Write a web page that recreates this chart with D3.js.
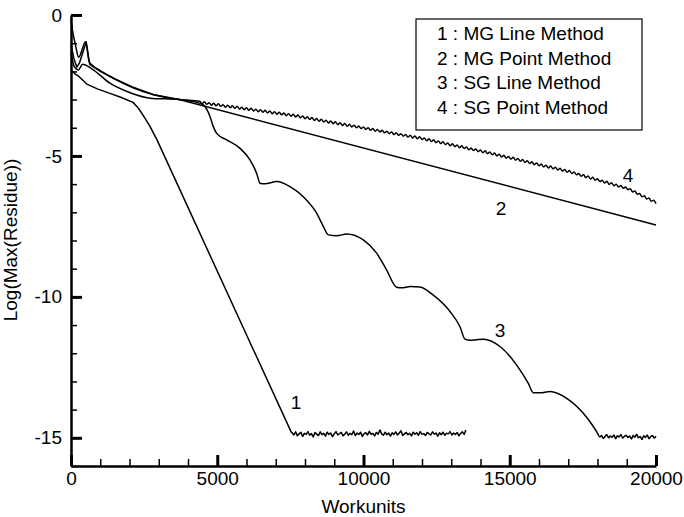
<!DOCTYPE html>
<html lang="en">
<head>
<meta charset="UTF-8">
<title>Residue history</title>
<script src="https://cdn.jsdelivr.net/npm/d3@7"></script>
<style>
  html, body { margin: 0; padding: 0; background: #fff; }
  svg { display: block; font-family: "Liberation Sans", Arial, Helvetica, sans-serif; }
</style>
</head>
<body>
<div id="chart"></div>
<script>
// ticks and labels
const xTicks = [0, 5000, 10000, 15000, 20000];
const yTicks = [0, -5, -10, -15];
const legendLabels = ["1 : MG Line Method", "2 : MG Point Method", "3 : SG Line Method", "4 : SG Point Method"];
const curveNames = ["1", "2", "3", "4"];
const curveNameAt = [[7690, -13.73], [14700, -6.85], [14670, -11.18], [19040, -5.68]];

// 1 : MG line method  [workunits, log residue]
const mgLine = [[0, -1.95], [60, -2.0], [150, -2.1], [280, -2.19], [540, -2.45], [900, -2.62],
  [1330, -2.78], [1700, -2.92], [2120, -3.1], [2300, -3.3], [2462, -3.55], [2700, -3.95],
  [2940, -4.43], [7530, -14.8]];
// noisy plateau, one value every 60 workunits from 7560
const mgLineTail = [-14.82,-14.90,-14.79,-14.93,-14.86,-14.80,-14.95,-14.84,-14.88,-14.78,
  -14.91,-14.85,-14.97,-14.81,-14.87,-14.92,-14.79,-14.89,-14.84,-14.94,
  -14.80,-14.88,-14.83,-14.96,-14.86,-14.78,-14.90,-14.85,-14.81,-14.93,
  -14.87,-14.79,-14.91,-14.84,-14.89,-14.76,-14.92,-14.83,-14.88,-14.80,
  -14.95,-14.85,-14.82,-14.90,-14.77,-14.88,-14.84,-14.93,-14.81,-14.87,
  -14.72,-14.86,-14.91,-14.80,-14.89,-14.83,-14.94,-14.82,-14.88,-14.79,
  -14.90,-14.84,-14.75,-14.92,-14.86,-14.81,-14.89,-14.84,-14.93,-14.80,
  -14.87,-14.82,-14.91,-14.78,-14.88,-14.85,-14.92,-14.81,-14.86,-14.90,
  -14.79,-14.87,-14.83,-14.94,-14.82,-14.89,-14.80,-14.91,-14.84,-14.86,
  -14.78,-14.90,-14.83,-14.88,-14.81,-14.93,-14.85,-14.79,-14.88,-14.72];

// 2 : MG point method
const mgPoint = [[0, -1.05], [100, -1.55], [200, -1.85], [290, -1.7], [520, -0.95], [640, -1.75],
  [1000, -2.0], [1500, -2.27], [2100, -2.55], [2800, -2.82], [3700, -3.0], [20000, -7.45]];

// 3 : SG line method
const sgLine = [[0, -1.35], [120, -1.85], [250, -1.95], [400, -1.75], [700, -1.9], [1330, -2.42],
  [2000, -2.75], [2700, -2.95], [3700, -3.0], [4300, -3.1], [4524, -3.19], [4752, -3.6],
  [4865, -3.96], [4980, -4.2], [5323, -4.43], [5778, -4.73], [6120, -5.14], [6348, -5.62],
  [6462, -5.97], [6600, -5.99], [6747, -5.97], [7032, -5.91], [7487, -6.09], [7942, -6.45],
  [8398, -7.03], [8626, -7.5], [8797, -7.8], [9084, -7.83], [9426, -7.77], [9994, -7.98],
  [10450, -8.45], [10792, -9.05], [11135, -9.66], [11300, -9.68], [11600, -9.63], [11932, -9.65],
  [12376, -9.93], [12957, -10.52], [13299, -11.06], [13470, -11.5], [13650, -11.54], [13812, -11.53],
  [14097, -11.5], [14667, -11.76], [15237, -12.42], [15635, -13.07], [15806, -13.4], [16034, -13.4],
  [16376, -13.36], [16946, -13.6], [17515, -14.13], [17857, -14.6], [17990, -14.82]];
// noisy plateau, one value every 60 workunits from 18020
const sgLineTail = [-14.88,-14.97,-14.92,-15.02,-14.95,-14.89,-15.00,-14.94,-14.98,-14.90,
  -15.03,-14.93,-14.97,-14.88,-15.01,-14.95,-14.91,-14.99,-14.94,-15.04,
  -14.92,-14.98,-14.87,-15.00,-14.95,-15.06,-14.93,-14.99,-14.90,-15.03,
  -14.96,-14.92,-15.01,-14.94];

// 4 : SG point method
const sgPoint = [[0, -0.15], [60, -0.6], [150, -1.05], [260, -1.5], [500, -0.95], [620, -1.65],
  [750, -1.8], [1000, -1.97], [1500, -2.27], [2100, -2.57], [2800, -2.82], [3700, -3.0]];
// oscillating part, one value every 80 workunits from 4400
const sgPointTail = [-3.06,-3.15,-3.08,-3.17,-3.11,-3.20,-3.13,-3.22,-3.15,-3.24,-3.18,-3.27,-3.20,-3.29,-3.22,-3.31,-3.24,-3.34,-3.27,-3.36,
  -3.29,-3.38,-3.31,-3.41,-3.34,-3.43,-3.36,-3.45,-3.38,-3.47,-3.41,-3.50,-3.43,-3.52,-3.45,-3.54,-3.48,-3.57,-3.50,-3.59,
  -3.52,-3.62,-3.55,-3.65,-3.58,-3.68,-3.61,-3.71,-3.64,-3.74,-3.67,-3.77,-3.70,-3.80,-3.73,-3.83,-3.76,-3.86,-3.79,-3.89,
  -3.82,-3.92,-3.85,-3.95,-3.88,-3.97,-3.91,-4.00,-3.94,-4.03,-3.97,-4.06,-4.00,-4.09,-4.03,-4.12,-4.06,-4.15,-4.09,-4.18,
  -4.12,-4.21,-4.15,-4.24,-4.18,-4.27,-4.21,-4.30,-4.24,-4.33,-4.27,-4.36,-4.29,-4.39,-4.32,-4.42,
  -4.36,-4.46,-4.39,-4.49,-4.43,-4.53,-4.47,-4.56,-4.50,-4.60,-4.54,-4.64,-4.57,-4.67,-4.61,-4.71,-4.64,-4.74,-4.68,-4.78,
  -4.72,-4.81,-4.75,-4.85,-4.79,-4.89,-4.82,-4.92,-4.86,
  -4.96,-4.90,-5.00,-4.94,-5.04,-4.98,-5.08,-5.02,-5.11,-5.05,-5.15,-5.09,-5.19,-5.13,-5.23,-5.17,-5.27,-5.21,-5.31,-5.25,
  -5.35,-5.29,-5.39,-5.33,-5.43,-5.36,-5.46,-5.40,-5.50,-5.44,-5.54,-5.48,-5.58,-5.52,
  -5.62,-5.57,-5.67,-5.62,-5.72,-5.66,-5.77,-5.71,-5.82,-5.76,-5.86,-5.81,-5.91,-5.86,-5.96,-5.90,-6.01,-5.95,-6.06,-6.00,
  -6.10,-6.05,-6.15,-6.10,-6.20,
  -6.16,-6.28,-6.24,-6.36,-6.33,-6.45,-6.41,-6.53,-6.49,-6.61,-6.57,-6.69];

// join the sampled tails onto the hand-read points
const withTail = (pts, start, step, vals) => pts.concat(vals.map((v, i) => [start + step * i, v]));
const series = [
  { pts: withTail(mgLine, 7560, 60, mgLineTail), curve: d3.curveLinear },
  { pts: mgPoint, curve: d3.curveLinear },
  { pts: withTail(sgLine, 18020, 60, sgLineTail), curve: d3.curveMonotoneX },
  { pts: withTail(sgPoint, 4400, 80, sgPointTail), curve: d3.curveMonotoneX }
];

const W = 684, H = 517;
const svg = d3.select("#chart").append("svg").attr("width", W).attr("height", H);

const x = d3.scaleLinear().domain([0, 20000]).range([71, 656]);
const y = d3.scaleLinear().domain([-16, 0]).range([466, 15]);

// minor ticks
svg.append("g")
  .attr("transform", "translate(0,466)")
  .call(d3.axisBottom(x).tickValues(d3.range(0, 20001, 1000)).tickSize(-7).tickFormat(""))
  .call(g => g.select(".domain").remove())
  .call(g => g.selectAll("line").attr("stroke-width", 1.5));
svg.append("g")
  .attr("transform", "translate(71,0)")
  .call(d3.axisLeft(y).tickValues(d3.range(-16, 1, 1)).tickSize(-6).tickFormat(""))
  .call(g => g.select(".domain").remove())
  .call(g => g.selectAll("line").attr("stroke-width", 1.5));

// major axes (plain hyphen for the minus sign, as in the original)
const xAxis = svg.append("g")
  .attr("transform", "translate(0,466)")
  .call(d3.axisBottom(x).tickValues(xTicks).tickFormat(d => String(d))
    .tickSize(-11).tickSizeOuter(0).tickPadding(6));
const yAxis = svg.append("g")
  .attr("transform", "translate(71,0)")
  .call(d3.axisLeft(y).tickValues(yTicks).tickFormat(d => String(d))
    .tickSize(-11).tickSizeOuter(0).tickPadding(9));

[xAxis, yAxis].forEach(g => {
  g.select(".domain").attr("stroke-width", 2.5);
  g.selectAll(".tick line").attr("stroke-width", 3);
  g.selectAll(".tick text").attr("font-size", 19).attr("fill", "#000")
    .style("font-family", "'Liberation Sans', Arial, sans-serif");
});

// curves
svg.append("g").selectAll("path")
  .data(series)
  .join("path")
  .attr("d", s => d3.line().x(d => x(d[0])).y(d => y(d[1])).curve(s.curve)(s.pts))
  .attr("fill", "none")
  .attr("stroke", "#000")
  .attr("stroke-width", 1.5)
  .attr("stroke-linejoin", "round");

// curve numbers
svg.append("g").selectAll("text")
  .data(curveNames)
  .join("text")
  .attr("x", (d, i) => x(curveNameAt[i][0]))
  .attr("y", (d, i) => y(curveNameAt[i][1]))
  .attr("dy", "0.35em")
  .attr("text-anchor", "middle")
  .attr("font-size", 19)
  .text(d => d);

// axis titles
svg.append("text")
  .attr("x", (x.range()[0] + x.range()[1]) / 2)
  .attr("y", 513)
  .attr("text-anchor", "middle")
  .attr("font-size", 19)
  .text("Workunits");

svg.append("text")
  .attr("transform", "translate(17,240) rotate(-90)")
  .attr("text-anchor", "middle")
  .attr("font-size", 19)
  .text("Log(Max(Residue))");

// legend
const legend = svg.append("g").attr("transform", "translate(416,19)");
legend.append("rect")
  .attr("width", 226)
  .attr("height", 111)
  .attr("fill", "#fff")
  .attr("stroke", "#000")
  .attr("stroke-width", 1.2);
legend.selectAll("text")
  .data(legendLabels)
  .join("text")
  .attr("x", 21)
  .attr("y", (d, i) => 21 + i * 24.5)
  .attr("font-size", 19)
  .text(d => d);
</script>
</body>
</html>
